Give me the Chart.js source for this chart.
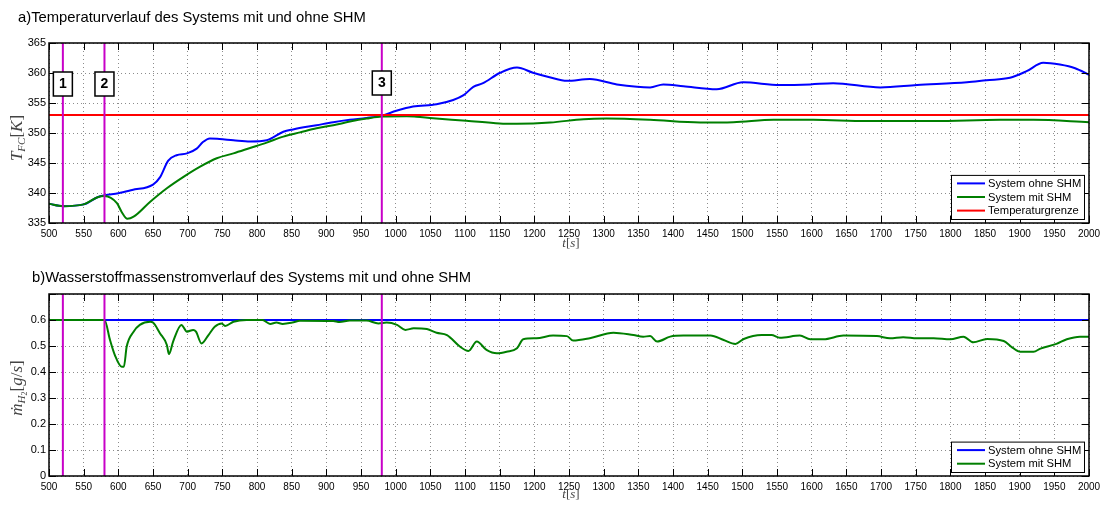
<!DOCTYPE html>
<html>
<head>
<meta charset="utf-8">
<script src="https://cdn.jsdelivr.net/npm/chart.js@4"></script>
<style>
  body { margin: 0; background: #fff; width: 1108px; height: 505px; overflow: hidden; position: relative;
         font-family: "Liberation Sans", Arial, sans-serif; }
  .wrap { position: absolute; left: 0; width: 1108px; }
  .ttl  { position: absolute; font-size: 14.8px; color: #000; white-space: nowrap; line-height: 17px; }
</style>
</head>
<body>
<div class="wrap" style="top:0;height:260px"><canvas id="canvas-temp"></canvas></div>
<div class="wrap" style="top:260px;height:245px"><canvas id="canvas-h2"></canvas></div>
<div class="ttl" style="left:18px;top:9px">a)Temperaturverlauf des Systems mit und ohne SHM</div>
<div class="ttl" style="left:32px;top:269px">b)Wasserstoffmassenstromverlauf des Systems mit und ohne SHM</div>
<script>
// ---- data ----
const X_MIN = 500, X_MAX = 2000, X_STEP = 50;
const TEMP_MIN = 335, TEMP_MAX = 365, TEMP_STEP = 5;
const H2_MIN = 0, H2_MAX = 0.7, H2_STEP = 0.1;

const seriesNames  = ['System ohne SHM', 'System mit SHM', 'Temperaturgrenze'];
const markerTimes  = [520, 580, 980];
const markerLabels = ['1', '2', '3'];
const tempLimit    = 353;
const h2Ohne       = 0.6;

const tempOhneT = [500,520,550,570,580,600,620,650,660,672,684,699,713,722,732,746,766,790,814,838,
                   852,886,910,934,958,980,1001,1025,1059,1083,1098,1112,1126,1150,1175,1198,1222,1247,1280,1319,
                   1348,1367,1386,1415,1463,1501,1554,1598,1631,1699,1752,1824,1852,1886,1910,1934,1958,1980,2000];
const tempOhne  = [338.2,337.8,338.1,339.3,339.6,339.95,340.5,341.4,342.6,345.4,346.3,346.6,347.4,348.5,349.1,349.0,348.8,348.6,348.8,350.2,
                   350.6,351.3,351.8,352.2,352.5,352.9,353.7,354.4,354.8,355.5,356.3,357.7,358.3,360.0,360.9,360.05,359.3,358.7,359.0,358.1,
                   357.7,357.6,358.1,357.8,357.3,358.45,358.0,358.1,358.3,357.6,358.0,358.45,358.8,359.2,360.3,361.7,361.4,360.8,359.7];

const tempMitT = [500,520,550,570,580,598,605,613,622,646,670,694,718,742,766,790,814,838,862,886,
                  910,934,958,980,1016,1030,1054,1102,1150,1175,1223,1271,1304,1367,1439,1487,1545,1602,1679,1776,
                  1872,1920,2000];
const tempMit  = [338.2,337.8,338.1,339.3,339.5,338.3,336.8,335.7,336.05,338.55,340.8,342.7,344.4,345.8,346.6,347.5,348.4,349.4,350.1,350.8,
                  351.3,351.9,352.4,352.75,352.8,352.7,352.45,352.05,351.6,351.55,351.75,352.3,352.4,352.2,351.75,351.8,352.2,352.2,352.0,352.0,
                  352.2,352.2,351.8];

const h2MitT = [500,580,588,595,605,608,612,622,631,646,650,660,670,673,679,691,699,708,712,720,
                730,739,749,754,766,785,808,819,828,837,851,862,910,919,934,958,975,987,1002,1014,
                1026,1045,1059,1074,1093,1105,1117,1131,1146,1160,1175,1184,1203,1227,1247,1256,1280,1314,1343,1357,
                1367,1377,1396,1415,1454,1473,1490,1502,1528,1542,1554,1583,1598,1617,1646,1694,1713,1732,1752,1776,
                1800,1819,1833,1853,1877,1889,1901,1920,1930,1953,1968,1987,2000];
const h2Mit  = [0.6,0.6,0.523,0.465,0.42,0.42,0.497,0.555,0.581,0.593,0.59,0.549,0.504,0.469,0.517,0.581,0.555,0.562,0.555,0.51,
                0.542,0.574,0.587,0.577,0.593,0.6,0.6,0.585,0.59,0.585,0.59,0.597,0.596,0.592,0.598,0.598,0.587,0.590,0.581,0.562,
                0.568,0.565,0.551,0.542,0.497,0.481,0.517,0.485,0.472,0.478,0.491,0.526,0.530,0.540,0.538,0.521,0.530,0.551,0.542,0.536,
                0.538,0.517,0.536,0.540,0.540,0.523,0.508,0.527,0.542,0.542,0.532,0.540,0.526,0.526,0.540,0.538,0.530,0.534,0.530,0.530,
                0.526,0.536,0.514,0.527,0.519,0.495,0.478,0.478,0.49,0.508,0.526,0.536,0.536];

// ---- styling ----
const BLUE = '#0000ff', GREEN = '#007f00', RED = '#ff0000', MAGENTA = '#c800c8';
const SANS  = '"Liberation Sans", Arial, sans-serif';
const SERIF = '"Liberation Serif", "DejaVu Serif", serif';

const pts = (xs, ys) => xs.map((x, i) => ({ x, y: ys[i] }));

function markerSets(lo, hi) {
  return markerTimes.map(t => ({
    data: [{ x: t, y: lo }, { x: t, y: hi }],
    borderColor: MAGENTA, borderWidth: 2, pointRadius: 0,
  }));
}

function line(label, data, color) {
  return { label, data, borderColor: color, borderWidth: 2, pointRadius: 0,
           cubicInterpolationMode: 'monotone' };
}

// draws text as a run of segments with own fonts and vertical offsets
function drawRun(ctx, segs, cx, cy) {
  let w = 0;
  segs.forEach(s => { ctx.font = s.font; w += ctx.measureText(s.t).width; });
  let xx = cx - w / 2;
  segs.forEach(s => {
    ctx.font = s.font;
    ctx.fillText(s.t, xx, cy + (s.dy || 0));
    xx += ctx.measureText(s.t).width;
  });
}

const matlabPlugin = {
  id: 'matlab',
  afterDraw(chart, args, o) {
    const { ctx, chartArea: a, scales: { x, y } } = chart;
    ctx.save();

    // inward ticks on all four sides
    ctx.strokeStyle = '#000';
    ctx.lineWidth = 1;
    ctx.beginPath();
    x.ticks.forEach(t => {
      const px = Math.round(x.getPixelForValue(t.value)) + 0.5;
      ctx.moveTo(px, a.bottom); ctx.lineTo(px, a.bottom - 7);
      ctx.moveTo(px, a.top);    ctx.lineTo(px, a.top + 7);
    });
    y.ticks.forEach(t => {
      const py = Math.round(y.getPixelForValue(t.value)) + 0.5;
      ctx.moveTo(a.left, py);  ctx.lineTo(a.left + 7, py);
      ctx.moveTo(a.right, py); ctx.lineTo(a.right - 7, py);
    });
    ctx.stroke();

    ctx.lineWidth = 1.5;
    ctx.strokeRect(a.left, a.top, a.right - a.left, a.bottom - a.top);

    // numbered marker boxes
    (o.boxes || []).forEach((lab, i) => {
      const cx = x.getPixelForValue(markerTimes[i]);
      const top = o.boxTop[i];
      ctx.fillStyle = '#fff';
      ctx.fillRect(cx - 9.5, top, 19, 24);
      ctx.strokeStyle = '#000';
      ctx.lineWidth = 1.5;
      ctx.strokeRect(cx - 9.5, top, 19, 24);
      ctx.fillStyle = '#000';
      ctx.font = 'bold 14px ' + SANS;
      ctx.textAlign = 'center';
      ctx.textBaseline = 'middle';
      ctx.fillText(lab, cx, top + 12.5);
    });

    // legend box in lower right corner
    const items = chart.data.datasets.filter(d => d.label);
    const ordered = seriesNames.map(n => items.find(d => d.label === n)).filter(Boolean);
    const lw = 133, lh = ordered.length * 13.7 + 3;
    const lx = a.right - 5 - lw, ly = a.bottom - 4 - lh;
    ctx.fillStyle = '#fff';
    ctx.fillRect(lx, ly, lw, lh);
    ctx.strokeStyle = '#000';
    ctx.lineWidth = 1;
    ctx.strokeRect(lx + 0.5, ly + 0.5, lw, lh);
    ctx.textAlign = 'left';
    ctx.textBaseline = 'middle';
    ctx.font = '11.2px ' + SANS;
    ordered.forEach((d, i) => {
      const ry = ly + 8.5 + i * 13.6;
      ctx.strokeStyle = d.borderColor;
      ctx.lineWidth = 2;
      ctx.beginPath(); ctx.moveTo(lx + 6, ry); ctx.lineTo(lx + 34, ry); ctx.stroke();
      ctx.fillStyle = '#000';
      ctx.fillText(d.label, lx + 37, ry + 0.5);
    });

    // axis titles
    ctx.fillStyle = '#444';
    ctx.textAlign = 'left';
    ctx.textBaseline = 'alphabetic';
    drawRun(ctx, o.xlabel, (a.left + a.right) / 2 + 2, a.bottom + o.xlabelGap);
    ctx.translate(22, (a.top + a.bottom) / 2 + o.ylabelShift);
    ctx.rotate(-Math.PI / 2);
    drawRun(ctx, o.ylabel, 0, 0);
    ctx.restore();
  },
};

const xLabel = [
  { t: 't', font: 'italic 13px ' + SERIF }, { t: '[', font: '13px ' + SERIF },
  { t: 's', font: 'italic 13px ' + SERIF }, { t: ']', font: '13px ' + SERIF },
];

function baseOptions(yMin, yMax, yStep, xAxisH, padTop, fmt, extra) {
  return {
    responsive: true,
    maintainAspectRatio: false,
    animation: false,
    layout: { padding: { top: padTop, right: 19, left: 0, bottom: 0 } },
    scales: {
      x: {
        type: 'linear', min: X_MIN, max: X_MAX,
        afterFit: s => { s.height = xAxisH; },
        ticks: { stepSize: X_STEP, color: '#000', font: { size: 10, family: SANS }, padding: 5,
                 maxRotation: 0, autoSkip: false, callback: v => String(v) },
        grid: { color: 'rgba(0,0,0,0.45)', lineWidth: 1, drawTicks: false },
        border: { display: false, dash: [1, 3] },
      },
      y: {
        min: yMin, max: yMax,
        afterFit: s => { s.width = 49; },
        ticks: { stepSize: yStep, color: '#000', font: { size: 11, family: SANS }, padding: 3,
                 callback: fmt },
        grid: { color: 'rgba(0,0,0,0.45)', lineWidth: 1, drawTicks: false },
        border: { display: false, dash: [1, 3] },
      },
    },
    plugins: { legend: { display: false }, tooltip: { enabled: false }, matlab: extra },
  };
}

new Chart(document.getElementById('canvas-temp'), {
  type: 'line',
  data: {
    datasets: [
      ...markerSets(TEMP_MIN, TEMP_MAX),
      line(seriesNames[2], [{ x: X_MIN, y: tempLimit }, { x: X_MAX, y: tempLimit }], RED),
      line(seriesNames[1], pts(tempMitT, tempMit), GREEN),
      line(seriesNames[0], pts(tempOhneT, tempOhne), BLUE),
    ],
  },
  options: baseOptions(TEMP_MIN, TEMP_MAX, TEMP_STEP, 37, 43, v => String(v), {
    boxes: markerLabels, boxTop: [72, 72, 71],
    xlabel: xLabel, xlabelGap: 24, ylabelShift: 5,
    ylabel: [
      { t: 'T', font: 'italic 17px ' + SERIF },
      { t: 'FC', font: 'italic 11px ' + SERIF, dy: 3 },
      { t: '[', font: '17px ' + SERIF }, { t: 'K', font: 'italic 17px ' + SERIF },
      { t: ']', font: '17px ' + SERIF },
    ],
  }),
  plugins: [matlabPlugin],
});

new Chart(document.getElementById('canvas-h2'), {
  type: 'line',
  data: {
    datasets: [
      ...markerSets(H2_MIN, H2_MAX),
      line(seriesNames[1], pts(h2MitT, h2Mit), GREEN),
      line(seriesNames[0], [{ x: X_MIN, y: h2Ohne }, { x: X_MAX, y: h2Ohne }], BLUE),
    ],
  },
  options: baseOptions(H2_MIN, H2_MAX, H2_STEP, 29, 34,
    v => (Math.abs(v - H2_MAX) < 1e-6 ? '' : (Math.abs(v) < 1e-9 ? '0' : v.toFixed(1))), {
    xlabel: xLabel, xlabelGap: 22, ylabelShift: 3,
    ylabel: [
      { t: 'ṁ', font: 'italic 17px ' + SERIF },
      { t: 'H', font: 'italic 11px ' + SERIF, dy: 3 },
      { t: '2', font: '8px ' + SERIF, dy: 5 },
      { t: '[', font: '17px ' + SERIF }, { t: 'g', font: 'italic 17px ' + SERIF },
      { t: '/', font: '17px ' + SERIF }, { t: 's', font: 'italic 17px ' + SERIF },
      { t: ']', font: '17px ' + SERIF },
    ],
  }),
  plugins: [matlabPlugin],
});
</script>
</body>
</html>
